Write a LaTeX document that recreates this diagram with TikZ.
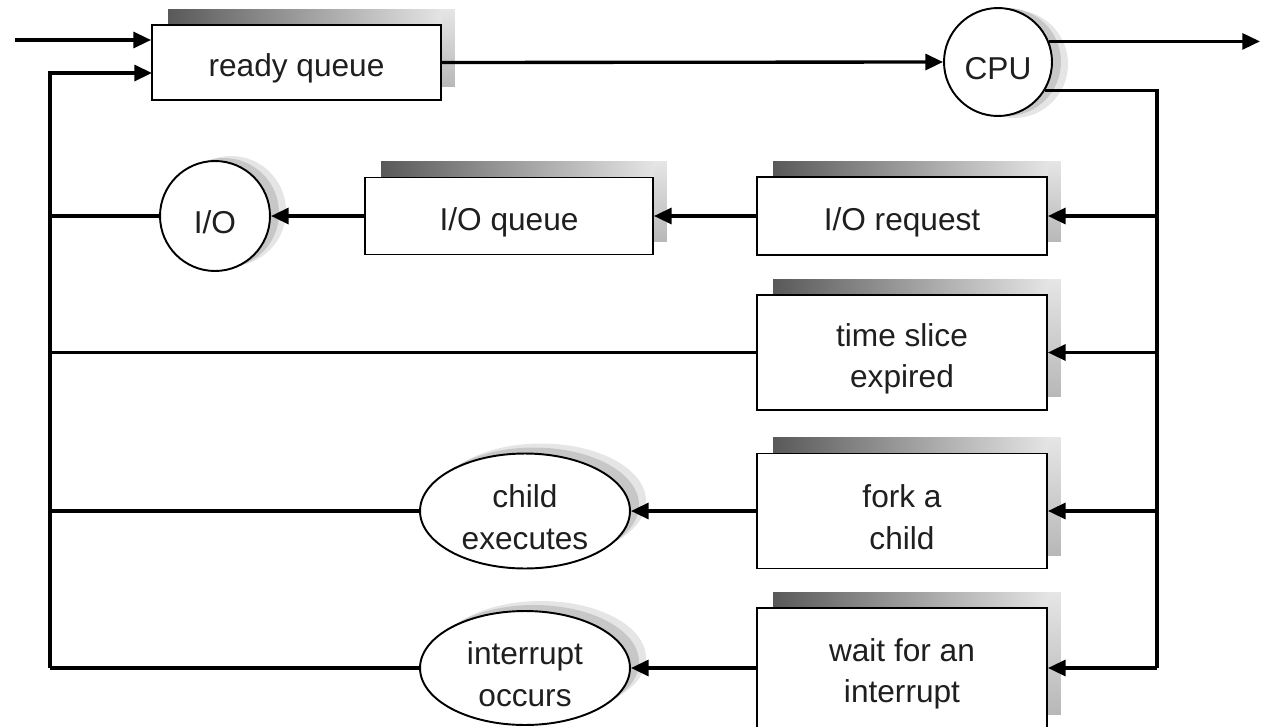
\documentclass[tikz,border=0pt]{standalone}
\usepackage{fontspec}
\setmainfont{Liberation Sans}
\usetikzlibrary{arrows.meta,calc,backgrounds,shapes.geometric}
\newcommand\boxshadow[1]{%
  \shade[left color=black!65, right color=black!8] ($(#1.north west)+(17,-15)$) rectangle ($(#1.north east)+(13,0)$);
  \shade[top color=black!10, bottom color=black!28] ($(#1.north east)+(0,-15)$) rectangle ($(#1.south east)+(13,-14)$);}
\begin{document}
\begin{tikzpicture}[x=0.02cm,y=-0.02cm,
  conn/.style={line width=1.9pt},
  arr/.style={conn,-{Triangle[length=10pt,width=9pt]}},
  lbl/.style={font=\fontsize{18}{23.5}\selectfont,text=black!88,align=center,inner sep=0pt},
  txt/.style={label={[lbl,yshift=-3.5pt]center:#1}},
  qbox/.style={draw,line width=1.1pt,fill=white,rectangle},
  rnd/.style={draw,line width=1.1pt,fill=white,circle},
  ell/.style={draw,line width=1.1pt,fill=white,ellipse}]
\useasboundingbox (0,0) rectangle (1262,727);
% nodes
\node[qbox,minimum width=5.78cm,minimum height=1.5cm,txt={ready queue}] (rq) at (296.5,62.5) {};
\node[rnd,minimum size=2.16cm,txt={CPU}] (cpu) at (998,62) {};
\node[qbox,minimum width=5.8cm,minimum height=1.56cm,txt={I/O request}] (ioreq) at (902,216) {};
\node[qbox,minimum width=5.76cm,minimum height=1.54cm,txt={I/O queue}] (ioq) at (509,216) {};
\node[rnd,minimum size=2.2cm,txt={I/O}] (io) at (215,216) {};
\node[qbox,minimum width=5.8cm,minimum height=2.3cm,txt={time slice\\expired}] (ts) at (902,352.5) {};
\node[qbox,minimum width=5.8cm,minimum height=2.3cm,txt={fork a\\child}] (fork) at (902,511) {};
\node[qbox,minimum width=5.8cm,minimum height=2.4cm,txt={wait for an\\interrupt}] (wait) at (902,668) {};
\node[ell,minimum width=4.2cm,minimum height=2.3cm,txt={child\\executes}] (child) at (525,511) {};
\node[ell,minimum width=4.2cm,minimum height=2.28cm,txt={interrupt\\occurs}] (intr) at (525,668) {};
% shadows
\begin{pgfonlayer}{background}
  \boxshadow{rq}
  \boxshadow{ioreq}
  \boxshadow{ioq}
  \boxshadow{ts}
  \boxshadow{fork}
  \boxshadow{wait}
  \fill[black!10] ($(cpu.center)+(16,2)$) circle (1.08cm);
  \fill[black!22] ($(cpu.center)+(9,0)$) circle (1.08cm);
  \fill[black!10] ($(io.center)+(16,-5)$) circle (1.1cm);
  \fill[black!22] ($(io.center)+(9,-3)$) circle (1.1cm);
  \fill[black!10] ($(child.center)+(16,-10)$) ellipse [x radius=2.1cm, y radius=1.15cm];
  \fill[black!22] ($(child.center)+(9,-6)$) ellipse [x radius=2.1cm, y radius=1.15cm];
  \fill[black!10] ($(intr.center)+(16,-10)$) ellipse [x radius=2.1cm, y radius=1.14cm];
  \fill[black!22] ($(intr.center)+(9,-6)$) ellipse [x radius=2.1cm, y radius=1.14cm];
\end{pgfonlayer}
% coordinates
\coordinate (in) at (15,40);
\coordinate (lb) at (50,668);
\coordinate (rqin) at (152,73);
\coordinate (out) at (1260,42);
\coordinate (R) at (1157,90);
% connectors
\draw[arr] (in) -- (in -| rq.west);
\draw[arr] (lb) -- (lb |- rqin) -- (rqin);
\draw[arr] (rq.east) -- (cpu.west);
\draw[arr] (cpu.22) -- (cpu.22 -| out);
\draw[conn] (cpu.-31) -- (cpu.-31 -| R) -- (R |- wait.east);
\draw[arr] (R |- ioreq.east) -- (ioreq.east);
\draw[arr] (R |- ts.east) -- (ts.east);
\draw[arr] (R |- fork.east) -- (fork.east);
\draw[arr] (R |- wait.east) -- (wait.east);
\draw[arr] (ioreq.west) -- (ioq.east);
\draw[arr] (ioq.west) -- (io.east);
\draw[conn] (io.west) -- (io.west -| lb);
\draw[conn] (ts.west) -- (ts.west -| lb);
\draw[arr] (fork.west) -- (child.east);
\draw[conn] (child.west) -- (child.west -| lb);
\draw[arr] (wait.west) -- (intr.east);
\draw[conn] (intr.west) -- (lb);
\end{tikzpicture}
\end{document}
